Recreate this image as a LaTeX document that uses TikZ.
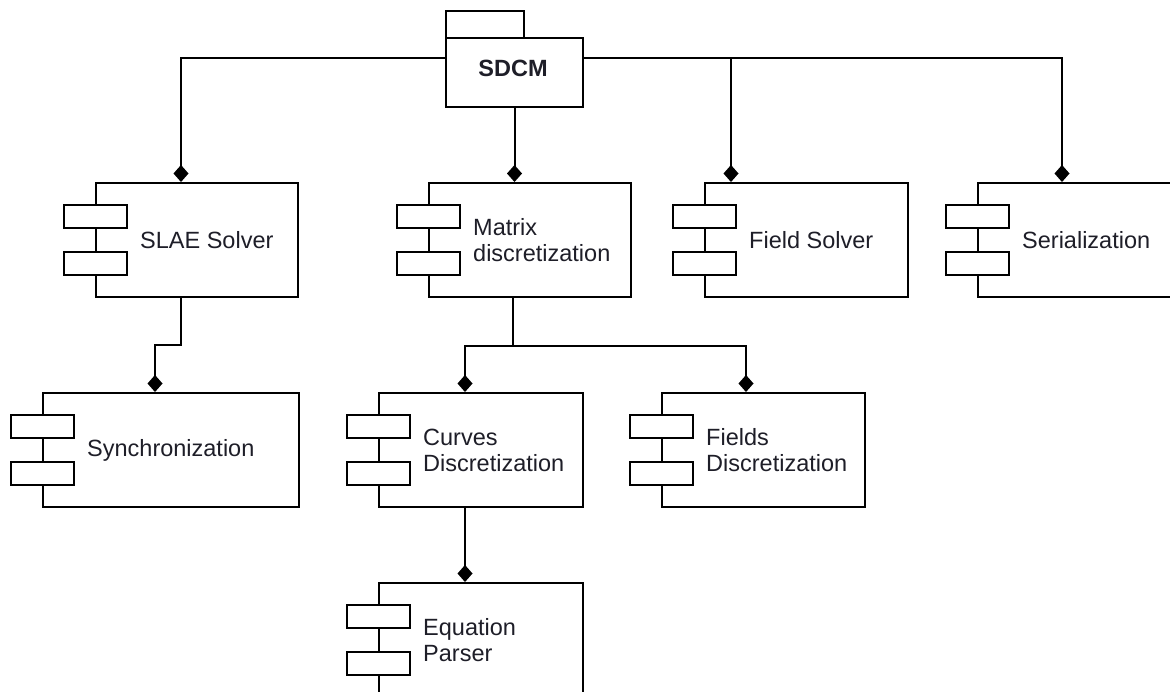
\documentclass[tikz,border=0pt]{standalone}
\usepackage{fontspec}
\setmainfont{Liberation Sans}
\usetikzlibrary{arrows.meta,calc}

\definecolor{ink}{HTML}{1E1E28}

\tikzset{
  compbox/.style={draw=black, line width=2pt, fill=white, inner sep=0pt,
    minimum height=114pt, anchor=north west},
  porttab/.style={draw=black, line width=2pt, fill=white},
  complabel/.style={inner sep=0pt, anchor=west, align=left, text=ink,
    font=\fontsize{23.5}{26}\selectfont},
  pkgpart/.style={draw=black, line width=2pt, fill=white, inner sep=0pt, anchor=north west},
  link/.style={draw=black, line width=2pt, -{Diamond[length=17pt,width=15pt]}},
}

% UML component: box with two port tabs straddling its left edge
\newcommand\component[5]{%
  \node[compbox, minimum width=#4pt] (#1) at (#2,#3) {};
  \draw[porttab] ($(#1.north west)+(-31.5,23)$) rectangle ++(63,23);
  \draw[porttab] ($(#1.south west)+(-31.5,-46)$) rectangle ++(63,23);
  \node[complabel] (#1-text) at ($(#1.west)+(45,0)$) {#5};
}

\begin{document}
\begin{tikzpicture}[x=1pt,y=-1pt]
\path[use as bounding box, clip] (0,0) rectangle (1170,692);
\fill[white] (0,0) rectangle (1170,692);

% top-level package
\node[pkgpart, minimum width=78pt, minimum height=27pt] (sdcm-tab) at (445,10) {};
\node[pkgpart, minimum width=137pt, minimum height=69pt] (sdcm) at (445,37) {};
\node[inner sep=0pt, text=ink, font=\fontsize{23.5}{26}\selectfont\bfseries] (sdcm-text) at (513,68) {SDCM};

% components
\component{slae}{95}{182}{202}{SLAE Solver}
\component{mdisc}{428}{182}{202}{Matrix\\discretization}
\component{field}{704}{182}{203}{Field Solver}
\component{serial}{977}{182}{202}{Serialization}
\component{sync}{42}{392}{256}{Synchronization}
\component{curves}{378}{392}{204}{Curves\\Discretization}
\component{fields}{661}{392}{203}{Fields\\Discretization}
\component{parser}{378}{582}{204}{Equation\\Parser}

% composition links
\draw[link] ($(sdcm.north west)+(0,21)$) -| ($(slae.north west)+(86,0)$);
\draw[link] (sdcm.south) -- (sdcm.south |- mdisc.north);
\draw[link] ($(sdcm.north east)+(0,21)$) -| ($(field.north west)+(27,0)$);
\draw[link] ($(sdcm.north east)+(0,21)$) -| ($(serial.north west)+(85,0)$);
\draw[link] ($(slae.south west)+(86,0)$) -- ++(0,47) -| ($(sync.north west)+(113,0)$);
\draw[link] ($(mdisc.south west)+(85,0)$) -- ++(0,48) -| ($(curves.north west)+(87,0)$);
\draw[link] ($(mdisc.south west)+(85,0)$) -- ++(0,48) -| ($(fields.north west)+(85,0)$);
\draw[link] ($(curves.south west)+(87,0)$) -- ($(parser.north west)+(87,0)$);
\end{tikzpicture}
\end{document}
